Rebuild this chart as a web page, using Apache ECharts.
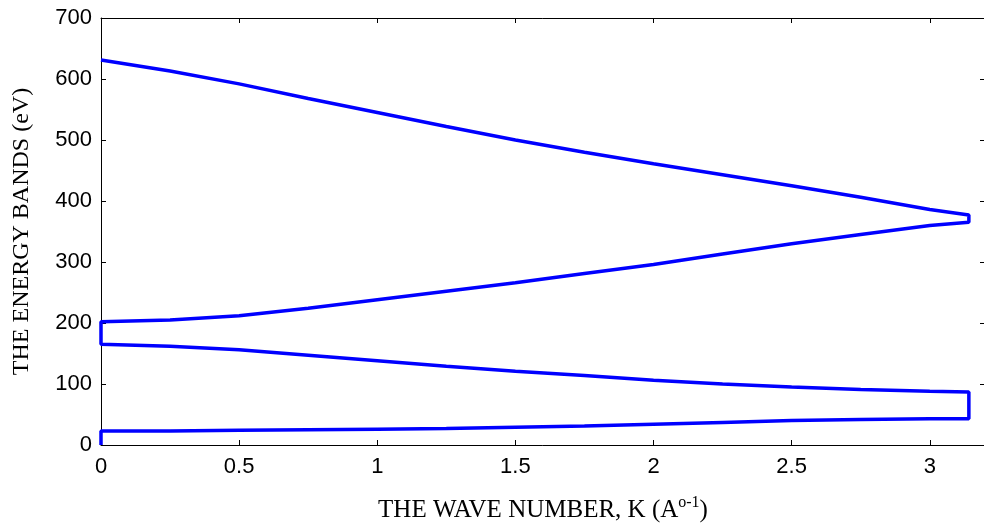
<!DOCTYPE html>
<html>
<head>
<meta charset="utf-8">
<script src="https://cdn.jsdelivr.net/npm/echarts@6/dist/echarts.min.js"></script>
<style>html,body{margin:0;padding:0;background:#fff}#c{width:984px;height:525px}</style>
</head>
<body>
<div id="c"></div>
<script>
// Wave number samples (A^-1)
var kValues = [0, 0.25, 0.5, 0.75, 1, 1.25, 1.5, 1.75, 2, 2.25, 2.5, 2.75, 3, 3.1416];
// Energy bands (eV)
var band1 = [23, 23, 24, 25, 26, 27, 29, 31, 34, 37, 40, 42, 43, 43];
var band2 = [165, 162, 156, 147, 138, 129, 121, 114, 106, 100, 95, 91, 88, 87];
var band3 = [202, 205, 212, 224, 238, 252, 266, 281, 296, 313, 330, 345, 360, 365];
var band4 = [631, 613, 592, 568, 545, 522, 500, 480, 461, 443, 425, 406, 386, 377];
var xTicks = [0, 0.5, 1, 1.5, 2, 2.5, 3];
var yTicks = [0, 100, 200, 300, 400, 500, 600, 700];

// Build the continuous path: start at origin, band1 forward, band2 back, band3 forward, band4 back
var path = [[0, 0]];
var i;
for (i = 0; i < kValues.length; i++) path.push([kValues[i], band1[i]]);
for (i = kValues.length - 1; i >= 0; i--) path.push([kValues[i], band2[i]]);
for (i = 0; i < kValues.length; i++) path.push([kValues[i], band3[i]]);
for (i = kValues.length - 1; i >= 0; i--) path.push([kValues[i], band4[i]]);

var chart = echarts.init(document.getElementById('c'));
function labelFont(extra) {
  return Object.assign({fontFamily: 'Liberation Sans, Arial, sans-serif', fontSize: 22, color: '#000'}, extra || {});
}
function tickStyle(extra) {
  return Object.assign({show: true, inside: true, length: 5, lineStyle: {color: '#000', width: 1}}, extra || {});
}
function lineAxis() {
  return {show: true, onZero: false, lineStyle: {color: '#000', width: 1}};
}
var serif = 'Liberation Serif, Times New Roman, serif';

chart.setOption({
  animation: false,
  backgroundColor: '#fff',
  grid: {left: 101, top: 18, right: -1, bottom: 80, containLabel: false, outerBoundsMode: 'none'},
  xAxis: [{
    type: 'value', min: 0, max: 3.2, interval: 0.5, position: 'bottom',
    axisLine: lineAxis(), axisTick: tickStyle({customValues: xTicks}),
    splitLine: {show: false},
    axisLabel: labelFont({customValues: xTicks, margin: 11,
      formatter: function (v) { return v > 3.05 ? '' : String(v); }}),
    name: 'THE WAVE NUMBER, K (A{sup|o-1})',
    nameLocation: 'middle', nameGap: 50,
    nameTextStyle: {fontFamily: serif, fontSize: 25, color: '#000',
      rich: {sup: {fontFamily: serif, fontSize: 16, color: '#000', padding: [0, 0, 14, 0]}}}
  }, {
    type: 'value', min: 0, max: 3.2, interval: 0.5, position: 'top',
    axisLine: lineAxis(), axisTick: tickStyle({customValues: xTicks}),
    splitLine: {show: false}, axisLabel: {show: false}
  }],
  yAxis: [{
    type: 'value', min: 0, max: 700, interval: 100, position: 'left',
    axisLine: lineAxis(), axisTick: tickStyle(), splitLine: {show: false},
    axisLabel: labelFont({margin: 9}),
    name: 'THE ENERGY BANDS (eV)', nameLocation: 'middle', nameGap: 67,
    nameTextStyle: {fontFamily: serif, fontSize: 24, color: '#000'}
  }, {
    type: 'value', min: 0, max: 700, interval: 100, position: 'right',
    axisLine: lineAxis(), axisTick: tickStyle(), splitLine: {show: false}, axisLabel: {show: false}
  }],
  series: [{
    type: 'line', data: path, showSymbol: false, smooth: false, clip: false,
    lineStyle: {color: '#0000ff', width: 3.5}, itemStyle: {color: '#0000ff'}
  }]
});
</script>
</body>
</html>
